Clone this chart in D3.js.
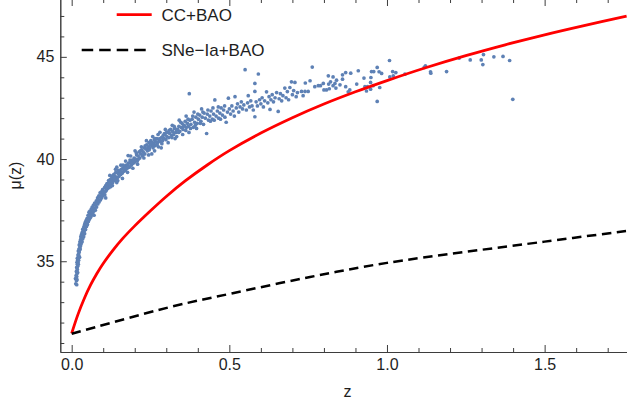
<!DOCTYPE html>
<html>
<head>
<meta charset="utf-8">
<script src="https://cdn.jsdelivr.net/npm/d3@7"></script>
<style>
  html, body { margin: 0; padding: 0; background: #fff; }
  svg { display: block; }
  text { font-family: "Liberation Sans", Arial, sans-serif; }
</style>
</head>
<body>
<svg id="chart" width="627" height="407"></svg>
<script>
// Model curves: distance modulus vs redshift
const ccZ  = [0, 0.02, 0.04, 0.06, 0.08, 0.1, 0.13, 0.16, 0.2, 0.25, 0.3, 0.36, 0.43, 0.5, 0.6, 0.7, 0.8, 0.9, 1.0, 1.125, 1.25, 1.375, 1.5, 1.625, 1.76];
const ccMu = [31.47, 32.40, 33.18, 33.84, 34.40, 34.89, 35.52, 36.08, 36.73, 37.47, 38.17, 38.93, 39.71, 40.41, 41.27, 42.02, 42.69, 43.29, 43.84, 44.48, 45.06, 45.59, 46.08, 46.53, 46.99];

const snZ  = [0, 0.317, 0.5, 0.756, 1.0, 1.5, 1.76];
const snMu = [31.45, 32.78, 33.4, 34.23, 34.92, 35.96, 36.48];

// Observed supernova distance moduli [z, mu]
const supernovae = [
  [0.012,34.15],[0.013,33.9],[0.014,34.3],[0.015,34.05],[0.015,34.5],[0.016,33.85],[0.016,34.25],[0.016,34.7],
  [0.017,34.4],[0.017,34.95],[0.017,34.1],[0.018,34.6],[0.018,34.85],[0.018,35.15],[0.019,34.75],[0.019,35.05],
  [0.019,34.45],[0.020,35.3],[0.020,34.95],[0.021,35.15],[0.021,35.5],[0.021,34.85],[0.022,35.35],[0.022,35.05],
  [0.023,35.6],[0.023,35.25],[0.024,35.45],[0.024,35.8],[0.025,35.55],[0.025,35.2],[0.026,35.7],[0.026,35.95],
  [0.027,35.6],[0.027,35.85],[0.028,36.05],[0.028,35.75],[0.029,35.95],[0.029,36.2],[0.030,35.85],[0.030,36.1],
  [0.031,36.3],[0.031,36.0],[0.032,36.15],[0.033,36.4],[0.033,35.95],[0.034,36.25],[0.035,36.55],[0.035,36.1],
  [0.036,36.35],[0.037,36.6],[0.038,36.2],[0.038,36.45],[0.039,36.7],[0.040,36.5],[0.041,36.35],[0.041,36.8],
  [0.042,36.6],[0.043,36.9],[0.044,36.55],[0.045,36.75],[0.046,37.0],[0.047,36.7],[0.048,36.9],[0.049,37.1],
  [0.050,36.8],[0.051,37.05],[0.052,37.25],[0.053,36.95],[0.054,37.15],[0.055,37.4],[0.056,37.05],[0.057,37.3],
  [0.058,37.45],[0.060,37.15],[0.061,37.35],[0.062,37.55],[0.063,37.25],[0.064,37.45],[0.065,37.65],[0.066,37.35],
  [0.068,37.55],[0.069,37.75],[0.070,37.45],[0.071,37.25],[0.072,37.6],[0.073,37.85],[0.075,37.5],[0.076,37.75],
  [0.078,37.95],[0.079,37.65],[0.080,37.9],[0.082,38.1],[0.083,37.8],[0.084,38.0],[0.086,38.2],[0.087,37.9],
  [0.088,38.15],[0.090,38.35],[0.091,38.0],[0.092,38.2],[0.094,38.4],[0.095,38.1],[0.096,38.3],[0.098,38.5],
  [0.099,38.2],[0.100,38.4],
  [0.102,38.35],[0.104,38.6],[0.106,38.4],[0.108,38.7],[0.110,38.5],[0.112,38.8],[0.113,38.55],[0.115,38.75],
  [0.117,38.95],[0.118,38.6],[0.120,38.85],[0.122,39.0],[0.124,38.75],[0.126,38.95],[0.128,39.15],[0.130,38.85],
  [0.132,39.05],[0.134,39.25],[0.136,38.95],[0.138,39.15],[0.140,39.35],[0.143,39.6],[0.143,38.85],[0.145,39.1],
  [0.147,39.3],[0.150,39.15],[0.152,39.4],[0.155,39.25],[0.157,39.5],[0.160,39.3],[0.162,39.55],[0.165,39.4],
  [0.168,39.65],[0.170,39.45],[0.173,39.7],[0.176,39.55],[0.179,40.17],[0.180,39.8],[0.183,39.6],[0.186,39.85],
  [0.189,39.7],[0.192,39.95],[0.195,39.8],[0.198,40.05],[0.200,39.85],
  [0.105,38.25],[0.109,38.45],[0.114,38.65],[0.119,38.8],[0.123,38.65],[0.127,39.05],[0.131,39.2],[0.135,39.05],
  [0.141,39.0],[0.148,39.45],[0.153,39.25],[0.158,39.35],[0.163,39.7],[0.167,39.5],[0.172,39.55],[0.178,39.7],
  [0.185,39.95],[0.191,39.8],[0.197,39.9],
  [0.108,38.1],[0.121,39.2],[0.129,38.7],[0.139,39.5],[0.146,38.95],[0.156,39.7],[0.161,39.05],[0.171,39.9],
  [0.177,39.35],[0.187,40.15],[0.194,39.55],[0.201,40.4],[0.209,39.75],[0.221,40.6],[0.229,40.05],[0.237,40.9],
  [0.244,40.2],[0.257,41.1],[0.263,40.4],[0.274,41.2],[0.284,40.55],[0.297,41.45],[0.306,40.8],[0.319,41.65],
  [0.328,41.0],[0.341,41.9],[0.352,41.2],[0.363,42.1],[0.372,41.3],[0.388,42.3],[0.396,41.5],[0.412,42.45],
  [0.203,40.0],[0.206,40.2],[0.208,39.9],[0.211,40.15],[0.214,40.35],[0.216,40.05],[0.219,40.25],[0.222,40.45],
  [0.224,40.15],[0.227,40.35],[0.230,40.55],[0.232,40.25],[0.235,40.5],[0.238,40.7],[0.240,40.4],[0.243,40.6],
  [0.245,40.8],[0.247,40.55],[0.249,40.7],[0.251,40.9],[0.254,40.25],[0.254,40.65],[0.256,40.8],[0.258,40.55],
  [0.260,40.75],[0.262,40.95],[0.264,40.65],[0.266,40.85],[0.268,40.7],[0.270,41.0],[0.272,40.8],[0.275,40.6],
  [0.277,40.9],[0.280,41.31],[0.282,40.85],[0.285,41.05],[0.288,40.9],[0.290,41.15],[0.293,41.0],[0.296,41.2],
  [0.299,40.95],[0.302,41.1],[0.305,41.3],[0.308,41.05],[0.311,41.25],[0.314,41.45],[0.317,41.15],[0.320,41.35],
  [0.323,41.2],[0.326,41.5],[0.330,41.3],[0.333,41.1],[0.336,41.45],[0.340,41.6],[0.343,41.35],[0.347,41.55],
  [0.350,41.75],[0.353,41.45],[0.357,41.65],[0.360,41.85],[0.364,41.55],[0.367,41.75],[0.370,41.6],[0.373,43.2],
  [0.375,41.9],[0.378,41.7],[0.382,41.95],[0.386,41.55],[0.390,41.8],[0.394,42.05],[0.398,41.75],[0.402,41.95],
  [0.406,42.15],[0.410,41.85],[0.414,42.05],[0.418,41.7],[0.420,42.25],
  [0.205,40.3],[0.212,40.0],[0.218,40.4],[0.226,40.2],[0.233,40.65],[0.239,40.5],[0.246,40.45],[0.252,40.75],
  [0.259,40.65],[0.265,41.0],[0.271,40.7],[0.279,41.0],[0.286,40.75],[0.294,41.25],[0.301,41.3],[0.309,41.4],
  [0.318,41.05],[0.325,41.6],[0.332,41.45],[0.339,41.3],[0.346,41.8],[0.355,41.6],[0.362,41.4],[0.369,41.95],
  [0.377,41.5],[0.384,42.1],[0.392,41.65],[0.400,42.2],[0.408,41.75],[0.416,42.3],
  [0.424,42.0],[0.428,41.25],[0.430,42.2],[0.434,41.9],[0.438,42.1],[0.442,42.35],[0.446,41.95],[0.450,42.2],
  [0.454,42.89],[0.458,42.1],[0.462,42.35],[0.466,42.0],[0.470,42.25],[0.474,42.5],[0.478,42.15],[0.482,42.4],
  [0.486,42.05],[0.490,41.8],[0.494,42.3],[0.497,42.98],[0.500,42.45],[0.504,42.2],[0.508,42.6],[0.512,42.35],
  [0.516,42.1],[0.518,43.05],[0.522,42.5],[0.526,42.7],[0.530,42.3],[0.534,42.55],[0.538,42.8],[0.542,42.45],
  [0.546,42.65],[0.550,44.37],[0.554,42.4],[0.558,42.75],[0.560,43.1],[0.564,42.55],[0.568,42.85],[0.572,42.6],
  [0.576,42.4],[0.581,43.7],[0.581,43.31],[0.581,42.07],[0.585,42.8],[0.589,42.6],[0.592,44.16],[0.596,42.9],
  [0.600,42.7],[0.604,43.0],[0.608,42.55],[0.612,42.85],[0.618,43.29],[0.622,42.75],[0.626,43.05],[0.629,42.43],
  [0.632,42.9],[0.636,43.15],[0.640,42.8],[0.645,43.0],[0.650,43.25],[0.655,42.33],[0.658,42.95],[0.662,43.2],
  [0.666,42.85],[0.670,43.1],[0.676,43.47],[0.680,43.0],[0.684,43.3],[0.688,42.9],[0.692,43.5],[0.697,43.78],
  [0.700,43.15],[0.704,43.35],[0.708,43.75],[0.712,43.05],[0.716,43.25],
  [0.432,42.4],[0.440,41.85],[0.448,42.5],[0.452,41.9],[0.465,42.55],[0.472,41.95],[0.485,42.6],
  [0.729,43.31],[0.734,43.10],[0.740,43.31],[0.741,43.72],[0.750,43.31],[0.756,43.83],[0.763,44.50],[0.771,43.54],
  [0.782,43.59],[0.789,43.59],[0.798,43.70],[0.800,43.38],[0.808,43.38],[0.814,44.07],[0.815,43.67],[0.817,43.44],
  [0.821,43.78],[0.829,44.02],[0.829,43.59],[0.835,43.70],[0.838,43.47],[0.840,43.86],[0.851,43.63],[0.859,44.12],
  [0.859,43.91],[0.869,44.23],[0.869,43.54],[0.877,43.29],[0.882,43.38],[0.885,44.20],[0.904,43.67],[0.909,44.32],
  [0.927,43.96],[0.930,43.54],[0.935,43.33],[0.938,43.54],[0.948,43.42],[0.948,43.75],[0.949,43.99],[0.951,44.28],
  [0.956,43.59],[0.958,44.28],[0.969,44.48],[0.969,42.82],[0.975,44.27],[0.977,43.50],[0.983,44.19],[1.008,44.82],
  [1.009,44.02],[1.018,44.28],[1.020,44.07],[1.028,44.23],[1.057,44.15],[1.118,44.48],[1.122,44.56],[1.138,44.27],
  [1.139,44.20],[1.189,44.28],[1.229,44.94],[1.264,44.85],[1.299,44.85],[1.304,44.62],[1.306,45.11],[1.339,45.00],
  [1.368,45.02],[1.389,44.82],[1.399,42.92]
];

const xMajorTicks = [0, 0.5, 1.0, 1.5];
const xTickLabels = ["0.0", "0.5", "1.0", "1.5"];
const yMajorTicks = [35, 40, 45];
const yTickLabels = ["35", "40", "45"];
const legendLabels = ["CC+BAO", "SNe\u2212Ia+BAO"];

const plot = { left: 60.3, right: 628, top: -1, bottom: 352 };

const x = d3.scaleLinear().domain([-0.0361, 1.7644]).range([plot.left, plot.right]);
const y = d3.scaleLinear().domain([30.56, 47.83]).range([plot.bottom, plot.top]);

const svg = d3.select("#chart");
const axisColor = "#3d3d3d";
const textColor = "#1e1e1e";

const xMinor = d3.range(0, 18).map(i => i / 10).filter(v => !xMajorTicks.some(m => Math.abs(m - v) < 1e-9));
const yMinor = d3.range(31, 48).filter(v => !yMajorTicks.includes(v));

function styleAxis(g) {
  g.selectAll("path.domain").attr("stroke", axisColor).attr("stroke-width", 1);
  g.selectAll(".tick line").attr("stroke", axisColor).attr("stroke-width", 1);
  g.selectAll(".tick text").attr("fill", textColor).style("font-size", "16px")
    .style("font-family", '"Liberation Sans", Arial, sans-serif');
}

// Bottom axis
const gBottom = svg.append("g").attr("transform", `translate(0,${plot.bottom})`);
gBottom.call(d3.axisBottom(x).tickValues(xMajorTicks).tickSizeInner(-7).tickSizeOuter(0).tickPadding(6.5)
  .tickFormat((d, i) => xTickLabels[i]));
styleAxis(gBottom);
const gBottomMinor = svg.append("g").attr("transform", `translate(0,${plot.bottom})`);
gBottomMinor.call(d3.axisBottom(x).tickValues(xMinor).tickSizeInner(-4).tickSizeOuter(0).tickFormat(""));
styleAxis(gBottomMinor);

// Top frame
const gTop = svg.append("g").attr("transform", `translate(0,${plot.top})`);
gTop.call(d3.axisTop(x).tickValues(xMajorTicks).tickSizeInner(-7).tickSizeOuter(0).tickFormat(""));
styleAxis(gTop);
const gTopMinor = svg.append("g").attr("transform", `translate(0,${plot.top})`);
gTopMinor.call(d3.axisTop(x).tickValues(xMinor).tickSizeInner(-4).tickSizeOuter(0).tickFormat(""));
styleAxis(gTopMinor);

// Left axis
const gLeft = svg.append("g").attr("transform", `translate(${plot.left},0)`);
gLeft.call(d3.axisLeft(y).tickValues(yMajorTicks).tickSizeInner(-6.5).tickSizeOuter(0).tickPadding(6)
  .tickFormat((d, i) => yTickLabels[i]));
styleAxis(gLeft);
const gLeftMinor = svg.append("g").attr("transform", `translate(${plot.left},0)`);
gLeftMinor.call(d3.axisLeft(y).tickValues(yMinor).tickSizeInner(-4).tickSizeOuter(0).tickFormat(""));
styleAxis(gLeftMinor);

// Clip region for the data
svg.append("clipPath").attr("id", "plotClip").append("rect")
  .attr("x", plot.left).attr("y", plot.top)
  .attr("width", plot.right - plot.left).attr("height", plot.bottom - plot.top);
const gData = svg.append("g").attr("clip-path", "url(#plotClip)");

// Supernova points
gData.append("g").selectAll("circle").data(supernovae).join("circle")
  .attr("cx", d => x(d[0])).attr("cy", d => y(d[1])).attr("r", 1.85)
  .attr("fill", "#5E81B5");

const line = d3.line().x(d => x(d[0])).y(d => y(d[1])).curve(d3.curveCatmullRom.alpha(0.5));

// CC+BAO model
gData.append("path").datum(ccZ.map((z, i) => [z, ccMu[i]]))
  .attr("d", line).attr("fill", "none").attr("stroke", "#ff0000").attr("stroke-width", 2.8);

// SNe-Ia+BAO model
gData.append("path").datum(snZ.map((z, i) => [z, snMu[i]]))
  .attr("d", line).attr("fill", "none").attr("stroke", "#000").attr("stroke-width", 2.5)
  .attr("stroke-dasharray", "9.5,5.5");

// Legend
const lg = svg.append("g");
lg.append("line").attr("x1", 116.7).attr("x2", 151.7).attr("y1", 14.7).attr("y2", 14.7)
  .attr("stroke", "#ff0000").attr("stroke-width", 2.8);
lg.append("text").attr("x", 161.5).attr("y", 20.8).text(legendLabels[0])
  .attr("fill", textColor).style("font-size", "17px");
lg.append("line").attr("x1", 81.7).attr("x2", 148.3).attr("y1", 50).attr("y2", 50)
  .attr("stroke", "#000").attr("stroke-width", 2.5).attr("stroke-dasharray", "11.5,6");
lg.append("text").attr("x", 161.5).attr("y", 56.2).text(legendLabels[1])
  .attr("fill", textColor).style("font-size", "17px");

// Axis titles
svg.append("text").attr("x", 347.5).attr("y", 397).attr("text-anchor", "middle")
  .attr("fill", textColor).style("font-size", "16px").text("z");
svg.append("text").attr("transform", "translate(21,175.5) rotate(-90)").attr("text-anchor", "middle")
  .attr("fill", textColor).style("font-size", "16px").text("\u03bc(z)");
</script>
</body>
</html>
